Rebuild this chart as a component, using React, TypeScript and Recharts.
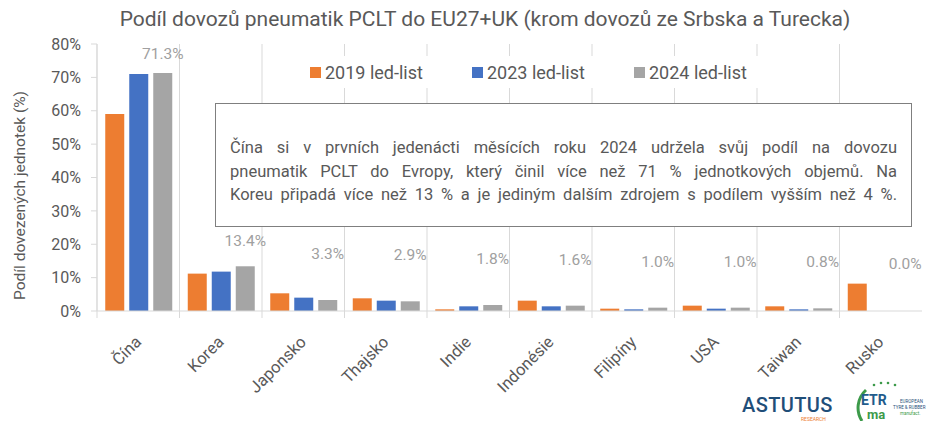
import { Bar, BarChart, CartesianGrid, Cell, LabelList, Legend, XAxis, YAxis } from "recharts"

const categories = ["Čína", "Korea", "Japonsko", "Thajsko", "Indie", "Indonésie", "Filipíny", "USA", "Taiwan", "Rusko"]
const share2019 = [59.0, 11.2, 5.3, 3.8, 0.5, 3.1, 0.7, 1.6, 1.4, 8.2]
const share2023 = [71.0, 11.8, 4.0, 3.1, 1.4, 1.4, 0.5, 0.7, 0.5, 0.0]
const share2024 = [71.3, 13.4, 3.3, 2.9, 1.8, 1.6, 1.0, 1.0, 0.8, 0.0]
const yTicks = [0, 10, 20, 30, 40, 50, 60, 70, 80]
const seriesNames = ["2019 led-list", "2023 led-list", "2024 led-list"]

const W = 928
const H = 421
const MARGIN = { top: 44, right: 6, left: 0, bottom: 50 }
const Y_AXIS_W = 97
const PLOT_W = W - MARGIN.left - MARGIN.right - Y_AXIS_W
const BAND = PLOT_W / categories.length

const COLORS = ["#ED7D31", "#4472C4", "#A5A5A5"]
const TEXT = "#595959"
const LINE = "#d9d9d9"
const FONT = "Roboto, 'Noto Sans', sans-serif"

const data = categories.map((name, i) => ({
  name,
  s2019: share2019[i],
  s2023: share2023[i],
  s2024: share2024[i],
}))

function CountryTick(props: { x?: number; y?: number; payload?: { value: string } }) {
  const { x = 0, y = 0, payload } = props
  const bx = x - BAND / 2
  const tx = x + 4
  const ty = y + 32
  return (
    <g>
      <line x1={bx} y1={y} x2={bx} y2={y + 7} stroke={LINE} />
      <text
        x={tx}
        y={ty}
        textAnchor="end"
        fill={TEXT}
        fontSize={16.5}
        fontFamily={FONT}
        transform={`rotate(-45, ${tx}, ${ty})`}
      >
        {payload?.value}
      </text>
    </g>
  )
}

// popisky nad šedými sloupci – u malých hodnot posunuté výš jako v originálu
function TopLabel(props: { x?: number; y?: number; width?: number; value?: number }) {
  const { x = 0, y = 0, width = 0, value = 0 } = props
  const lift = value >= 50 ? 14 : value >= 10 ? 20 : 41
  return (
    <text x={x + width / 2} y={y - lift} textAnchor="middle" fill="#a0a0a0" fontSize={15.5} fontFamily={FONT}>
      {value.toFixed(1)}%
    </text>
  )
}

function YTitle(props: { viewBox?: { x: number; y: number; width: number; height: number } }) {
  const vb = props.viewBox ?? { x: 0, y: 0, width: 0, height: 0 }
  const cx = vb.x + 20
  const cy = vb.y + vb.height / 2 + 18
  return (
    <text
      x={cx}
      y={cy}
      textAnchor="middle"
      dominantBaseline="central"
      fill={TEXT}
      fontSize={15.5}
      fontFamily={FONT}
      transform={`rotate(-90, ${cx}, ${cy})`}
    >
      Podíl dovezených jednotek (%)
    </text>
  )
}

function LegendBox() {
  return (
    <div style={{ display: "flex", alignItems: "center", height: "100%", fontFamily: FONT, fontSize: 18, color: TEXT }}>
      {seriesNames.map((n, i) => (
        <div key={n} style={{ display: "flex", alignItems: "center", width: 162, flexShrink: 0 }}>
          <span style={{ width: 11, height: 11, background: COLORS[i], marginRight: 4, display: "inline-block" }} />
          {n}
        </div>
      ))}
    </div>
  )
}

function Logos() {
  return (
    <svg width={W} height={H} style={{ position: "absolute", left: 0, top: 0, pointerEvents: "none" }}>
      <text x={742} y={411.5} fontFamily={FONT} fontSize={20} fontWeight={500} fill="#1f4e79" letterSpacing={0.4}>
        ASTUTUS
      </text>
      <text x={801} y={421} fontFamily={FONT} fontSize={5} fill="#ED7D31">
        RESEARCH
      </text>
      <path d="M 866 390 A 24 24 0 0 0 862 421" fill="none" stroke="#3c9a4a" strokeWidth={3} />
      <circle cx={874} cy={385} r={1.3} fill="#3c9a4a" />
      <circle cx={881} cy={383} r={1.3} fill="#3c9a4a" />
      <circle cx={888} cy={383} r={1.3} fill="#3c9a4a" />
      <circle cx={895} cy={385} r={1.3} fill="#3c9a4a" />
      <text x={861} y={405} fontFamily={FONT} fontSize={14} fontWeight={700} fill="#1f5c8c">
        ETR
      </text>
      <text x={867} y={419} fontFamily={FONT} fontSize={13} fontWeight={700} fill="#3c9a4a">
        ma
      </text>
      <text x={900} y={403} fontFamily={FONT} fontSize={4.5} fill="#1f4e79">
        EUROPEAN
      </text>
      <text x={893} y={409} fontFamily={FONT} fontSize={4.5} fill="#1f4e79">
        TYRE &amp; RUBBER
      </text>
      <text x={900} y={415} fontFamily={FONT} fontSize={4.5} fill="#3c9a4a">
        manufact.
      </text>
    </svg>
  )
}

const noteLines = [
  "Čína si v prvních jedenácti měsících roku 2024 udržela svůj podíl na dovozu",
  "pneumatik PCLT do Evropy, který činil více než 71 % jednotkových objemů. Na",
  "Koreu připadá více než 13 % a je jediným dalším zdrojem s podílem vyšším než 4 %.",
]

export default function App() {
  return (
    <div style={{ position: "absolute", left: 0, top: 0, width: W, height: H, background: "#fff", overflow: "hidden" }}>
      <div
        style={{
          position: "absolute",
          left: 0,
          top: 7,
          width: W,
          textAlign: "center",
          fontFamily: FONT,
          fontSize: 21,
          color: TEXT,
          paddingLeft: 42,
          boxSizing: "border-box",
        }}
      >
        Podíl dovozů pneumatik PCLT do EU27+UK (krom dovozů ze Srbska a Turecka)
      </div>
      <BarChart width={W} height={H} data={data} margin={MARGIN} barCategoryGap="10%" barGap={5}>
        <CartesianGrid
          horizontal={false}
          stroke={LINE}
          verticalCoordinatesGenerator={({ offset }: any) =>
            categories.map((_, i) => offset.left + (i * offset.width) / categories.length)
          }
        />
        <XAxis
          dataKey="name"
          height={60}
          interval={0}
          tickSize={0}
          tickMargin={0}
          axisLine={{ stroke: LINE }}
          tick={<CountryTick />}
        />
        <YAxis
          width={Y_AXIS_W}
          domain={[0, 80]}
          ticks={yTicks}
          tickFormatter={(v: number) => `${v}%`}
          tick={{ fill: TEXT, fontSize: 16, fontFamily: FONT }}
          tickSize={6}
          tickMargin={10}
          tickLine={{ stroke: LINE }}
          axisLine={{ stroke: LINE }}
          label={<YTitle />}
        />
        <Legend
          layout="horizontal"
          verticalAlign="middle"
          align="center"
          content={<LegendBox />}
          wrapperStyle={{ left: 300, top: 56, width: 490, height: 32, paddingLeft: 10, background: "#fff" }}
        />
        <Bar dataKey="s2019" name={seriesNames[0]} fill={COLORS[0]} isAnimationActive={false} />
        <Bar dataKey="s2023" name={seriesNames[1]} fill={COLORS[1]} isAnimationActive={false} />
        <Bar
          dataKey="s2024"
          name={seriesNames[2]}
          fill={COLORS[2]}
          isAnimationActive={false}
          minPointSize={(v: number) => (v === 0 ? 1 : 0)}
        >
          {share2024.map((v, i) => (
            <Cell key={i} fill={COLORS[2]} fillOpacity={v === 0 ? 0 : 1} />
          ))}
          <LabelList dataKey="s2024" content={<TopLabel />} />
        </Bar>
      </BarChart>
      <div
        style={{
          position: "absolute",
          left: 215,
          top: 103,
          width: 697,
          height: 124,
          boxSizing: "border-box",
          border: "1.5px solid #7f7f7f",
          background: "#fff",
          padding: "32px 14px 0 14px",
          fontFamily: FONT,
          fontSize: 16.5,
          lineHeight: "23.5px",
          color: TEXT,
        }}
      >
        {noteLines.map((l) => (
          <div key={l} style={{ textAlign: "justify", textAlignLast: "justify", whiteSpace: "nowrap" }}>
            {l}
          </div>
        ))}
      </div>
      <Logos />
    </div>
  )
}
